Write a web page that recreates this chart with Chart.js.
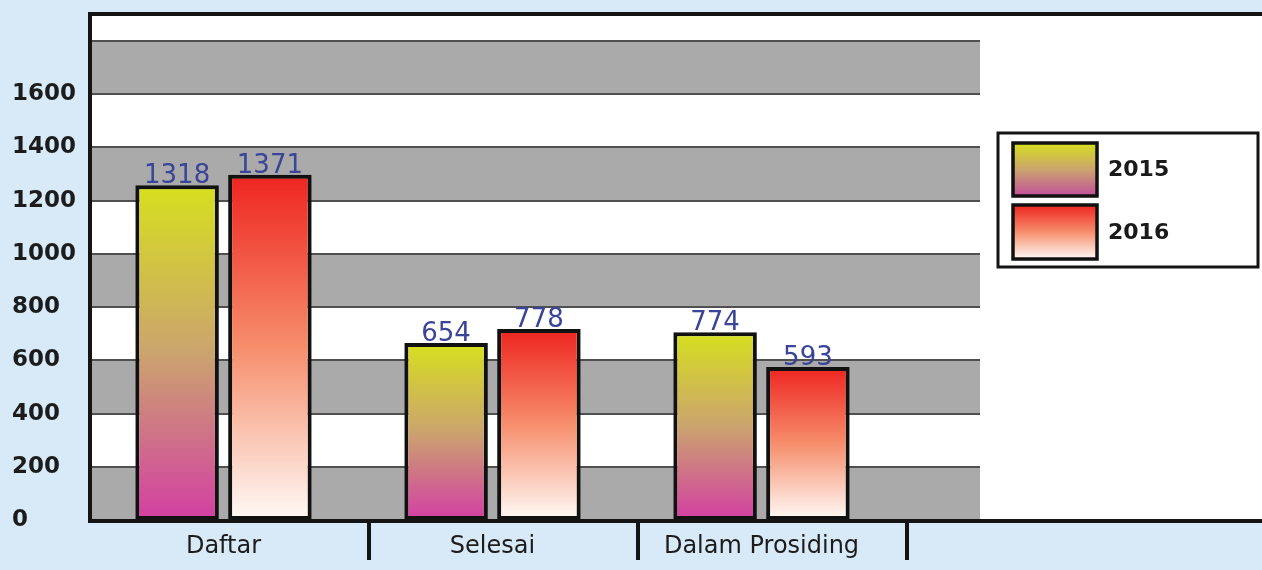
<!DOCTYPE html>
<html><head><meta charset="utf-8">
<script src="https://cdn.jsdelivr.net/npm/chart.js@4.4.0/dist/chart.umd.min.js"></script>
<style>html,body{margin:0;padding:0;background:#d8eaf8;overflow:hidden}#wrap{width:1262px;height:570px;position:relative}</style>
</head><body><div id="wrap"><canvas id="c" width="1262" height="570"></canvas></div>
<script>
// ---- data ----
const categories = ['Daftar', 'Selesai', 'Dalam Prosiding'];
const seriesNames = ['2015', '2016'];
// bar heights as drawn against the y axis in the picture
const bars2015 = [1258, 665, 706];
const bars2016 = [1297, 718, 575];
// numbers printed above the bars
const printed2015 = ['1318', '654', '774'];
const printed2016 = ['1371', '778', '593'];
const yMax = 1800;
const yStep = 200;

const printed = [printed2015, printed2016];
const gradStops = [
  [[0, '#d6e01e'], [0.5, '#cba46e'], [1, '#d33fa3']],
  [[0, '#ee2420'], [0.5, '#f68e6c'], [1, '#fffaf7']]
];
function makeGrad(ctx, top, bottom, stops) {
  const g = ctx.createLinearGradient(0, top, 0, bottom);
  stops.forEach(s => g.addColorStop(s[0], s[1]));
  return g;
}
function barBg(si) {
  return function (c) {
    const chart = c.chart;
    if (!chart.chartArea || c.type !== 'data') return gradStops[si][0][1];
    const y = chart.scales.y;
    return makeGrad(chart.ctx, y.getPixelForValue(c.raw), y.getPixelForValue(0), gradStops[si]);
  };
}

const decor = {
  id: 'decor',
  beforeDatasetsDraw(chart) {
    const { ctx, chartArea: a, scales: { y } } = chart;
    const L = 90, R = chart.width + 10, T = 14, bandR = 980;
    ctx.save();
    ctx.fillStyle = '#ffffff';
    ctx.fillRect(L, T, R - L, a.bottom - T);
    ctx.fillStyle = '#aaaaaa';
    for (let v = 0; v < yMax; v += 2 * yStep) {
      const t = y.getPixelForValue(v + yStep), b = y.getPixelForValue(v);
      ctx.fillRect(L, t, bandR - L, b - t);
    }
    ctx.strokeStyle = '#505050';
    ctx.lineWidth = 2;
    for (let v = 0; v <= yMax; v += yStep) {
      const p = Math.round(y.getPixelForValue(v));
      ctx.beginPath(); ctx.moveTo(L, p); ctx.lineTo(bandR, p); ctx.stroke();
    }
    ctx.restore();
  },
  afterDatasetsDraw(chart) {
    const { ctx, chartArea: a, scales: { x } } = chart;
    ctx.save();
    // value labels
    ctx.font = '26px "DejaVu Sans"';
    ctx.fillStyle = '#3a4498';
    ctx.textAlign = 'center';
    ctx.textBaseline = 'alphabetic';
    chart.data.datasets.forEach((ds, di) => {
      chart.getDatasetMeta(di).data.forEach((el, i) => {
        ctx.fillText(printed[di][i], el.x, el.y - 2);
      });
    });
    // frame
    ctx.strokeStyle = '#141414';
    ctx.lineWidth = 4;
    ctx.beginPath();
    ctx.moveTo(90, 14); ctx.lineTo(chart.width + 5, 14);
    ctx.moveTo(90, 12); ctx.lineTo(90, a.bottom + 2);
    ctx.moveTo(88, a.bottom + 1); ctx.lineTo(chart.width + 5, a.bottom + 1);
    ctx.stroke();
    // category separators
    const half = (x.getPixelForValue(1) - x.getPixelForValue(0)) / 2;
    ctx.beginPath();
    for (let i = 0; i < categories.length; i++) {
      const px = Math.round(x.getPixelForValue(i) + half + 11);
      ctx.moveTo(px, a.bottom + 1); ctx.lineTo(px, a.bottom + 40);
    }
    ctx.stroke();
    // legend
    const bx = 998, by = 133, bw = 260, bh = 134;
    ctx.fillStyle = '#ffffff';
    ctx.fillRect(bx, by, bw, bh);
    ctx.lineWidth = 3;
    ctx.strokeRect(bx, by, bw, bh);
    const sw = [[1013, 143, 84, 53], [1013, 205, 84, 54]];
    chart.data.datasets.forEach((ds, di) => {
      const [sx, sy, w, h] = sw[di];
      ctx.fillStyle = makeGrad(ctx, sy, sy + h, di === 0 ? [[0, '#d6e01e'], [0.5, '#cba46e'], [1, '#c24f9c']] : gradStops[1]);
      ctx.fillRect(sx, sy, w, h);
      ctx.lineWidth = 3.5;
      ctx.strokeStyle = '#111';
      ctx.strokeRect(sx, sy, w, h);
      ctx.fillStyle = '#1a1a1a';
      ctx.font = 'bold 22px "DejaVu Sans"';
      ctx.textAlign = 'left';
      ctx.textBaseline = 'middle';
      ctx.fillText(ds.label, 1108, sy + h / 2 + 1);
    });
    ctx.restore();
  }
};

new Chart(document.getElementById('c'), {
  type: 'bar',
  data: {
    labels: categories,
    datasets: [
      { label: seriesNames[0], data: bars2015, backgroundColor: barBg(0) },
      { label: seriesNames[1], data: bars2016, backgroundColor: barBg(1) }
    ]
  },
  options: {
    responsive: false,
    animation: false,
    layout: { padding: { left: 12, right: 366, top: 41, bottom: 0 } },
    datasets: { bar: { categoryPercentage: 0.69, barPercentage: 0.9, borderColor: '#111', borderWidth: 4, borderSkipped: false } },
    plugins: { legend: { display: false }, tooltip: { enabled: false } },
    scales: {
      x: {
        grid: { display: false, drawTicks: false },
        border: { display: false },
        ticks: { padding: 12, color: '#1c1c1c', font: { family: 'DejaVu Sans', size: 24 } },
        afterFit(s) { s.height = 50; }
      },
      y: {
        min: 0, max: yMax,
        grid: { display: false, drawTicks: false },
        border: { display: false },
        ticks: {
          stepSize: yStep, crossAlign: 'far', padding: 0,
          color: '#1c1c1c', font: { family: 'DejaVu Sans', size: 23, weight: 'bold' },
          callback: v => (v === yMax ? '' : v)
        },
        afterFit(s) { s.width = 77; }
      }
    }
  },
  plugins: [decor]
});
</script></body></html>
